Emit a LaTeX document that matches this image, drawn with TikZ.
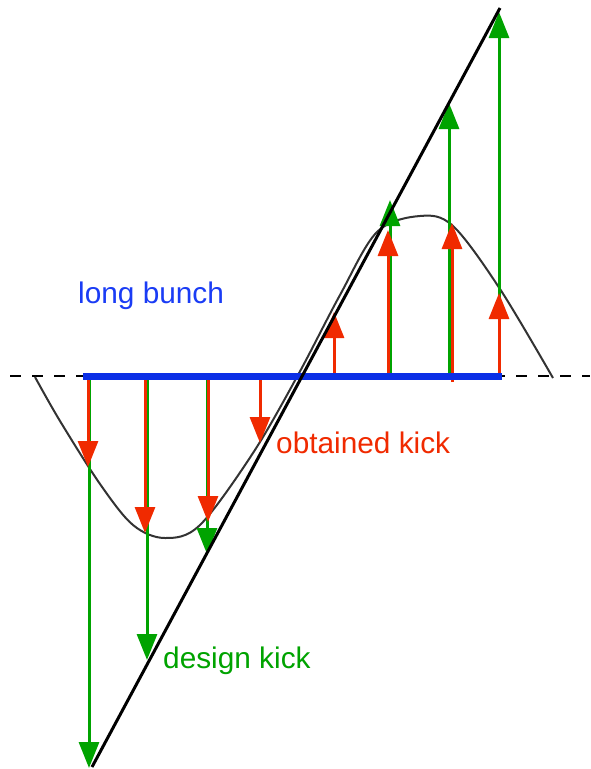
\documentclass[tikz,border=0pt]{standalone}
\usepackage{fontspec}
\setmainfont{Liberation Sans}
\usetikzlibrary{arrows.meta}
\definecolor{kred}{HTML}{F02A00}
\definecolor{kgreen}{HTML}{00A300}
\definecolor{kblue}{HTML}{0B2FE6}
\definecolor{tblue}{HTML}{1A3CF5}
\definecolor{curvegray}{HTML}{333333}
\tikzset{
  obtained/.style={draw=kred, line width=3pt, -{Triangle[width=20pt,length=26pt]}, kred},
  design/.style={draw=kgreen, line width=3pt, -{Triangle[width=20pt,length=26pt]}, kgreen},
  lbl/.style={anchor=base west, inner sep=0pt, font=\fontsize{29.8}{32}\selectfont},
}
\begin{document}
\begin{tikzpicture}[x=1pt,y=-1pt]
\useasboundingbox (0,0) rectangle (590,769);
% axis
\coordinate (axL) at (10,376);
\coordinate (axR) at (590,376);
\draw[black, line width=2pt, dash pattern=on 11pt off 11pt] (axL) -- (axR);
% sine-like curve
\draw[curvegray, line width=2pt, line join=round] plot[smooth, tension=0.55] coordinates {
 (35,377) (60,421) (100,484) (133,525) (165,538) (200,525) (253,453) (298,375)
 (340,295) (377,232) (420,216) (453,226) (500,289) (553,378)};
% baseline points
\foreach \n/\x in {a/89,b/147,c/207,f/390,g/449,h/499}{\coordinate (g0\n) at (\x,376);}
% design kick (green)
\coordinate (gA) at (89,768);
\coordinate (gB) at (147,660);
\coordinate (gC) at (207,554);
\coordinate (gF) at (390,200);
\coordinate (gG) at (449,103);
\coordinate (gH) at (499,12);
\draw[design] (g0a) -- (gA);
\draw[design] (g0b) -- (gB);
\draw[design] (g0c) -- (gC);
\draw[design] (g0f) -- (gF);
\draw[design] (g0g) -- (gG);
\draw[design] (g0h) -- (gH);
% obtained kick (red)
\foreach \n/\x in {a/88,b/145,c/208,d/260,e/334,f/388,h/499}{\coordinate (r0\n) at (\x,376);}
\coordinate (r0g) at (452,382);
\coordinate (rA) at (88,467);
\coordinate (rB) at (145,533);
\coordinate (rC) at (208,522);
\coordinate (rD) at (260,443);
\coordinate (rE) at (334,312);
\coordinate (rF) at (388,230);
\coordinate (rG) at (452,223);
\coordinate (rH) at (499,293);
\draw[obtained] (r0a) -- (rA);
\draw[obtained] (r0b) -- (rB);
\draw[obtained] (r0c) -- (rC);
\draw[obtained] (r0d) -- (rD);
\draw[obtained] (r0e) -- (rE);
\draw[obtained] (r0f) -- (rF);
\draw[obtained] (r0g) -- (rG);
\draw[obtained] (r0h) -- (rH);
% long bunch (blue)
\coordinate (bL) at (83,376);
\coordinate (bR) at (502,376);
\draw[kblue, line width=7pt] (bL) -- (bR);
% design line
\coordinate (lnB) at (92,767);
\coordinate (lnT) at (500,8);
\draw[black, line width=3pt] (lnB) -- (lnT);
% labels
\node[lbl, text=tblue] (tbunch) at (78,303) {long bunch};
\node[lbl, text=kred] (tobt) at (276,453) {obtained kick};
\node[lbl, text=kgreen] (tdes) at (163,668) {design kick};
\end{tikzpicture}
\end{document}
